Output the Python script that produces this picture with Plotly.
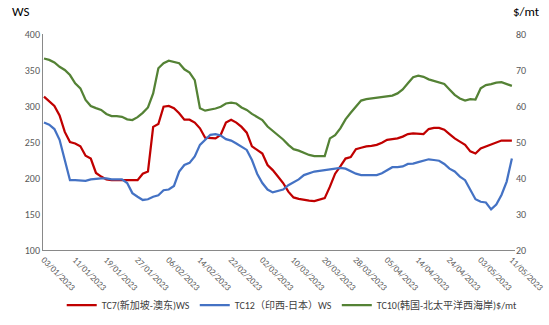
import plotly.graph_objects as go

# Tick labels (every 6th trading day)
tick_labels = ["03/01/2023", "11/01/2023", "19/01/2023", "27/01/2023", "06/02/2023",
               "14/02/2023", "22/02/2023", "02/03/2023", "10/03/2023", "20/03/2023",
               "28/03/2023", "05/04/2023", "14/04/2023", "24/04/2023", "03/05/2023",
               "11/05/2023"]

# TC7 (WS)
tc7 = [313, 307, 300, 287, 264, 250, 248, 244, 231, 227,
       207, 202, 198, 197, 197, 197, 197, 196, 197, 206,
       209, 271, 275, 299, 300, 297, 290, 281, 281, 277,
       269, 256, 255, 255, 260, 277, 281, 277, 271, 263,
       244, 239, 234, 218, 211, 202, 193, 181, 173, 171,
       169.5, 168.5, 168, 169.5, 172, 188, 206, 216, 227, 229,
       240, 242, 244, 244.5, 246, 249, 253, 254, 255, 257.5,
       261, 262, 262, 261, 268, 269.5, 269.5, 267, 261, 255,
       250.5, 246, 237, 234, 241, 244, 246, 249, 252, 252,
       252]

# TC12 (WS)
tc12 = [277, 274, 268, 253, 225, 197, 197, 197, 196, 198,
        199, 199.5, 199.5, 198, 198, 198, 193, 179, 174, 169.5,
        170.5, 174, 176, 183, 184, 189, 209, 218, 221, 230,
        246, 253, 260, 261, 259, 254, 252, 248, 244, 239,
        225, 206, 193, 184, 180, 182, 184, 190, 194, 198,
        204, 207, 209, 210, 211, 211, 212, 214, 213, 209,
        206, 204, 204, 203, 204, 206.5, 211, 215, 215, 216,
        219.5, 220, 222, 224, 226, 225, 224, 219.5, 213, 209,
        202, 197, 183, 170.5, 167, 166, 156.5, 163, 176.5, 195,
        227]

# TC10 ($/mt)
tc10 = [73.2, 72.8, 72.1, 70.9, 70.0, 68.6, 66.3, 64.9, 61.7, 60.0,
        59.4, 58.9, 57.8, 57.2, 57.2, 57.0, 56.3, 56.1, 56.9, 58.1,
        59.6, 63.5, 70.5, 71.9, 72.6, 72.3, 71.9, 70.2, 69.3, 67.2,
        59.4, 58.7, 58.9, 59.3, 59.8, 60.7, 60.9, 60.7, 59.6, 58.9,
        57.8, 56.9, 56.1, 54.3, 53.1, 52.0, 50.7, 49.2, 48.0, 47.6,
        47.0, 46.4, 46.1, 46.1, 46.1, 51.0, 51.9, 53.8, 56.3, 58.1,
        59.8, 61.5, 61.9, 62.1, 62.1, 62.3, 62.6, 62.9, 63.5, 64.6,
        66.3, 68.0, 68.4, 68.1, 67.4, 67.0, 66.6, 66.1, 64.6, 63.1,
        62.1, 61.5, 61.9, 61.8, 64.9, 65.8, 66.1, 66.5, 66.6, 66.1,
        65.6]

names = ["TC7(新加坡-澳东)WS", "TC12（印西-日本）WS", "TC10(韩国-北太平洋西海岸)$/mt"]
colors = ["#C00000", "#4472C4", "#548235"]

x = list(range(len(tc7)))
FONT = "Calibri, Carlito, 'Noto Sans CJK SC', sans-serif"

fig = go.Figure()
fig.add_trace(go.Scatter(x=x, y=tc7, name=names[0], mode="lines",
                         line=dict(color=colors[0], width=2.25)))
fig.add_trace(go.Scatter(x=x, y=tc12, name=names[1], mode="lines",
                         line=dict(color=colors[1], width=2.25)))
fig.add_trace(go.Scatter(x=x, y=tc10, name=names[2], mode="lines", yaxis="y2",
                         line=dict(color=colors[2], width=2.25)))

fig.update_layout(
    width=549, height=325,
    margin=dict(l=43, r=34, t=34, b=75, autoexpand=False),
    paper_bgcolor="white", plot_bgcolor="white",
    font=dict(family=FONT, size=10, color="#595959"),
    showlegend=True,
    legend=dict(orientation="h", x=0.528, xanchor="center", y=-0.255, yanchor="middle",
                font=dict(size=10, color="#404040"), tracegroupgap=0,
                itemwidth=30),
    xaxis=dict(range=[-0.19, 90.6], tickmode="array",
               tickvals=list(range(0, len(tc7), 6)), ticktext=tick_labels,
               tickangle=45, showgrid=False, zeroline=False, automargin=False,
               showline=True, linecolor="#898989", linewidth=1, ticks="",
               tickfont=dict(size=9, color="#595959")),
    yaxis=dict(range=[100, 400], tickvals=[100, 150, 200, 250, 300, 350, 400],
               showgrid=False, zeroline=False, showline=True, linecolor="#898989",
               linewidth=1, ticks="", automargin=False,
               tickfont=dict(size=10, color="#595959")),
    yaxis2=dict(range=[20, 80], tickvals=[20, 30, 40, 50, 60, 70, 80],
                overlaying="y", side="right", showgrid=False, zeroline=False,
                showline=False, ticks="", automargin=False,
                tickfont=dict(size=10, color="#595959")),
    annotations=[
        dict(text="WS", xref="paper", yref="paper", x=-0.046, y=1.102,
             xanchor="center", yanchor="middle", showarrow=False,
             font=dict(size=13, color="#000000")),
        dict(text="$/mt", xref="paper", yref="paper", x=1.025, y=1.102,
             xanchor="center", yanchor="middle", showarrow=False,
             font=dict(size=13, color="#000000")),
    ],
)

fig.write_html("out.html")
